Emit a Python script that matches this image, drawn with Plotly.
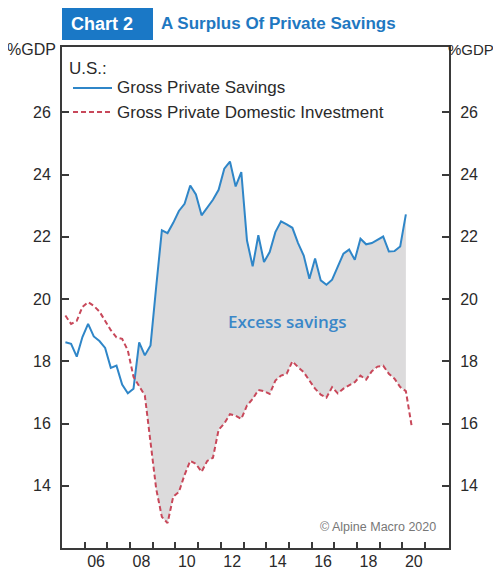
import numpy as np
import pandas as pd
import plotly.graph_objects as go

# ---------------- data (quarterly, % of GDP) ----------------
first_quarter = "2005Q1"
gross_private_savings = [
    18.61, 18.56, 18.15, 18.78,   # 2005
    19.20, 18.80, 18.65, 18.43,   # 2006
    17.79, 17.86, 17.25, 16.97,   # 2007
    17.12, 18.61, 18.19, 18.51,   # 2008
    20.40, 22.21, 22.12, 22.45,   # 2009
    22.83, 23.06, 23.65, 23.36,   # 2010
    22.69, 22.96, 23.19, 23.51,   # 2011
    24.19, 24.42, 23.62, 24.08,   # 2012
    21.88, 21.05, 22.05, 21.19,   # 2013
    21.51, 22.15, 22.50, 22.40,   # 2014
    22.29, 21.80, 21.40, 20.65,   # 2015
    21.30, 20.60, 20.46, 20.62,   # 2016
    21.03, 21.46, 21.59, 21.26,   # 2017
    21.94, 21.76, 21.80, 21.91,   # 2018
    22.01, 21.53, 21.54, 21.69,   # 2019
    22.72,                        # 2020
]
gross_private_investment = [
    19.47, 19.20, 19.30, 19.75,   # 2005
    19.90, 19.78, 19.60, 19.30,   # 2006
    19.00, 18.77, 18.72, 18.35,   # 2007
    17.50, 17.20, 16.90, 15.40,   # 2008
    13.90, 13.00, 12.80, 13.65,   # 2009
    13.80, 14.35, 14.80, 14.70,   # 2010
    14.45, 14.80, 14.90, 15.80,   # 2011
    16.00, 16.30, 16.25, 16.15,   # 2012
    16.58, 16.79, 17.08, 17.04,   # 2013
    16.95, 17.38, 17.54, 17.60,   # 2014
    18.00, 17.81, 17.65, 17.38,   # 2015
    17.12, 16.93, 16.83, 17.17,   # 2016
    16.97, 17.12, 17.22, 17.33,   # 2017
    17.54, 17.41, 17.68, 17.83,   # 2018
    17.86, 17.60, 17.44, 17.17,   # 2019
    17.04, 15.94,                 # 2020
]
series_names = ["Gross Private Savings", "Gross Private Domestic Investment"]
y_tick_values = [14, 16, 18, 20, 22, 24, 26]
year_tick_values = list(range(2006, 2022))
year_label_years = list(range(2006, 2021, 2))
year_labels = ["06", "08", "10", "12", "14", "16", "18", "20"]

# ---------------- helpers ----------------
def quarter_positions(n):
    per = pd.period_range(first_quarter, periods=n, freq="Q")
    return np.array([p.year + (p.quarter - 1) / 4 + 0.15 for p in per])

x_sav = quarter_positions(len(gross_private_savings))
x_inv = quarter_positions(len(gross_private_investment))

# shaded area where savings exceed investment
s = np.array(gross_private_savings)
v = np.array(gross_private_investment[: len(s)])
xs, up, lo = [], [], []
for i in range(len(s)):
    if i > 0:
        d0, d1 = s[i - 1] - v[i - 1], s[i] - v[i]
        if d0 * d1 < 0:
            t = d0 / (d0 - d1)
            xc = x_sav[i - 1] + t * (x_sav[i] - x_sav[i - 1])
            yc = v[i - 1] + t * (v[i] - v[i - 1])
            xs.append(xc); up.append(yc); lo.append(yc)
    xs.append(x_sav[i]); up.append(max(s[i], v[i])); lo.append(v[i])
poly_x = xs + xs[::-1]
poly_y = up + lo[::-1]

BLUE = "#2f86c8"
RED = "#c8485a"
RED_DASH = "5px,3px"
AX = "#3a3a3a"
TXT = "#2a2a2a"
FONT = "Liberation Sans, Arial, sans-serif"
NARROW = "Liberation Sans Narrow, Arial Narrow, Liberation Sans"

# page body has an 8px margin; plot area spans page x 62..449, y 47..548
OFF = 8
PL, PR, PT, PB = 62, 449, 47, 548
PW, PH = PR - PL, PB - PT

def px(xp):
    return (xp - PL) / PW

def py(yp):
    return 1 - (yp - PT) / PH

fig = go.Figure()
fig.add_trace(go.Scatter(x=poly_x, y=poly_y, fill="toself", fillcolor="#dcdbdc",
                         line=dict(width=0), mode="lines", showlegend=False,
                         hoverinfo="skip"))
fig.add_trace(go.Scatter(x=x_sav, y=gross_private_savings, mode="lines",
                         name=series_names[0], showlegend=False,
                         line=dict(color=BLUE, width=2)))
fig.add_trace(go.Scatter(x=x_inv, y=gross_private_investment, mode="lines",
                         name=series_names[1], showlegend=False,
                         line=dict(color=RED, width=2, dash=RED_DASH)))
# invisible trace to carry the right-hand axis
fig.add_trace(go.Scatter(x=[x_sav[0]], y=[gross_private_savings[0]], yaxis="y2",
                         mode="markers", marker=dict(opacity=0),
                         showlegend=False, hoverinfo="skip"))

W, H = 501 - OFF, 569 - OFF
fig.update_layout(
    width=W, height=H,
    margin=dict(l=PL - OFF, r=W - (PR - OFF), t=PT - OFF, b=H - (PB - OFF),
                autoexpand=False),
    paper_bgcolor="white", plot_bgcolor="white",
    font=dict(family=FONT, size=16, color=TXT),
    showlegend=False,
    xaxis=dict(range=[2005, 2022.05], showgrid=False, zeroline=False,
               automargin=False,
               showline=True, linecolor=AX, linewidth=2, mirror=True,
               tickvals=[y + 0.5 for y in year_label_years], ticktext=year_labels,
               ticks="", ticklabelstandoff=-2,
               tickfont=dict(size=16, color=TXT),
               minor=dict(tickvals=year_tick_values, ticks="inside",
                          ticklen=6, tickwidth=2, tickcolor=AX)),
    yaxis=dict(range=[12, 28.1], showgrid=False, zeroline=False,
               automargin=False,
               showline=True, linecolor=AX, linewidth=2,
               tickvals=y_tick_values, ticks="inside", ticklen=7,
               tickwidth=1.5, tickcolor=AX, ticklabelstandoff=6,
               tickfont=dict(size=16, color=TXT)),
    yaxis2=dict(range=[12, 28.1], overlaying="y", side="right",
                showgrid=False, zeroline=False, automargin=False,
                showline=True, linecolor=AX, linewidth=2,
                tickvals=y_tick_values, ticks="inside", ticklen=7,
                tickwidth=1.5, tickcolor=AX, ticklabelstandoff=6,
                tickfont=dict(size=16, color=TXT)),
)

# title block
fig.add_shape(type="rect", xref="paper", yref="paper",
              x0=px(62), x1=px(153), y0=py(40), y1=py(8),
              fillcolor="#1a78c6", line=dict(width=0), layer="above")
fig.add_annotation(text="<b>Chart 2</b>", xref="paper", yref="paper",
                   x=px(69), y=py(24), xanchor="left", yanchor="middle",
                   showarrow=False,
                   font=dict(family=NARROW, size=18, color="white"))
fig.add_annotation(text="<b>A Surplus Of Private Savings</b>", xref="paper", yref="paper",
                   x=px(159), y=py(24), xanchor="left", yanchor="middle",
                   showarrow=False,
                   font=dict(family=NARROW, size=17, color="#1f78c1"))
# unit labels
fig.add_annotation(text="%GDP", xref="paper", yref="paper",
                   x=px(31), y=py(49), xanchor="center", yanchor="middle",
                   showarrow=False, font=dict(size=16, color=TXT))
fig.add_annotation(text="%GDP", xref="paper", yref="paper",
                   x=px(471), y=py(49), xanchor="center", yanchor="middle",
                   showarrow=False, font=dict(size=15, color=TXT))

# legend (drawn inside the frame, top-left)
fig.add_annotation(text="U.S.:", xref="paper", yref="paper",
                   x=px(67), y=py(68), xanchor="left", yanchor="middle",
                   showarrow=False, font=dict(size=17, color=TXT))
legend_rows = [(series_names[0], BLUE, "solid", 88),
               (series_names[1], RED, RED_DASH, 112)]
for name, col, dash, yrow in legend_rows:
    fig.add_shape(type="line", xref="paper", yref="paper",
                  x0=px(73), x1=px(112), y0=py(yrow), y1=py(yrow),
                  line=dict(color=col, width=2, dash=dash))
    fig.add_annotation(text=name, xref="paper", yref="paper",
                       x=px(115), y=py(yrow), xanchor="left", yanchor="middle",
                       showarrow=False, font=dict(size=17, color=TXT))

# in-plot labels
fig.add_annotation(text="Excess savings", x=2014.93, y=19.29, showarrow=False,
                   xanchor="center", yanchor="middle",
                   font=dict(family="Open Sans, sans-serif", size=17,
                             color="#3a87c8", weight=600))
fig.add_annotation(text="© Alpine Macro 2020", x=2021.55, y=12.67, xanchor="right",
                   yanchor="middle",
                   showarrow=False, font=dict(size=12.5, color="#777777"))

fig.write_html("out.html")
